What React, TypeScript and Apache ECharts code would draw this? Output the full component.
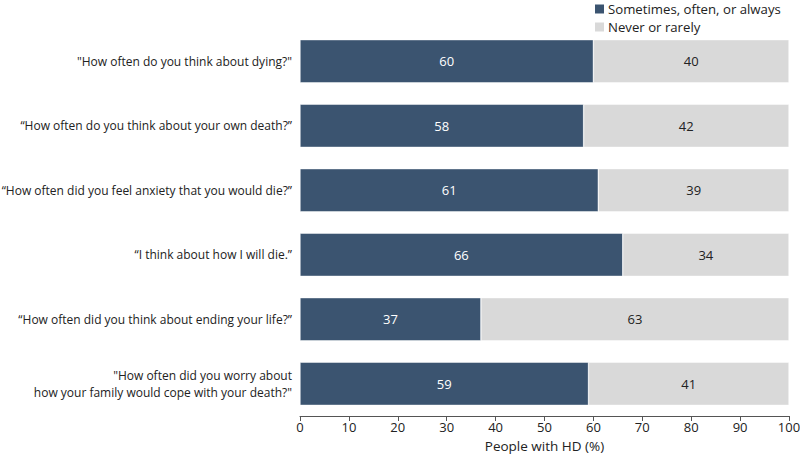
import React, { useEffect, useRef } from "react";
import * as echarts from "echarts";

const categories = [
  '"How often do you think about dying?"',
  "“How often do you think about your own death?”",
  "“How often did you feel anxiety that you would die?”",
  "“I think about how I will die.”",
  "“How often did you think about ending your life?”",
  '"How often did you worry about\nhow your family would cope with your death?"',
];
const sometimes = [60, 58, 61, 66, 37, 59];
const never = [40, 42, 39, 34, 63, 41];
const seriesNames = ["Sometimes, often, or always", "Never or rarely"];
const xTicks = [0, 10, 20, 30, 40, 50, 60, 70, 80, 90, 100];

export default function App() {
  const ref = useRef<HTMLDivElement>(null);
  useEffect(() => {
    if (!ref.current) return;
    const chart = echarts.init(ref.current, null, { renderer: "svg" });
    const font = "Open Sans";
    chart.setOption({
      animation: false,
      textStyle: { fontFamily: font },
      legend: {
        orient: "vertical",
        left: 593,
        top: 2,
        padding: 0,
        itemWidth: 11,
        itemHeight: 11,
        itemGap: 4,
        icon: "rect",
        textStyle: { fontFamily: font, fontSize: 13.2, color: "#222", padding: [0, 0, 0, -2], lineHeight: 14 },
        data: seriesNames,
      },
      grid: { left: 300, right: 11, top: 29, bottom: 40, containLabel: false, outerBoundsMode: "none" },
      xAxis: {
        type: "value",
        min: 0,
        max: 100,
        interval: 10,
        name: "People with HD (%)",
        nameLocation: "middle",
        nameGap: 23,
        nameTextStyle: { fontFamily: font, fontSize: 13.5, color: "#222" },
        axisLine: { show: true, lineStyle: { color: "#555" } },
        axisTick: { show: true, length: 5, lineStyle: { color: "#555" } },
        axisLabel: {
          fontFamily: font,
          fontSize: 13,
          color: "#222",
          margin: 4,
          formatter: (v: number) => (xTicks.includes(v) ? String(v) : ""),
        },
        splitLine: { show: false },
      },
      yAxis: {
        type: "category",
        inverse: true,
        data: categories,
        axisLine: { show: false },
        axisTick: { show: false },
        axisLabel: {
          fontFamily: font,
          fontSize: 12,
          color: "#222",
          margin: 8,
          lineHeight: 17,
        },
      },
      series: [
        {
          name: seriesNames[0],
          type: "bar",
          stack: "a",
          data: sometimes,
          barCategoryGap: "33%",
          itemStyle: { color: "#3b5470", borderColor: "#ffffff", borderWidth: 0.5 },
          label: {
            show: true,
            position: "inside",
            color: "#ffffff",
            fontFamily: font,
            fontSize: 13,
          },
        },
        {
          name: seriesNames[1],
          type: "bar",
          stack: "a",
          data: never,
          barCategoryGap: "33%",
          itemStyle: { color: "#d9d9d9", borderColor: "#ffffff", borderWidth: 0.5 },
          label: {
            show: true,
            position: "inside",
            color: "#222",
            fontFamily: font,
            fontSize: 13,
          },
        },
      ],
    });
    return () => chart.dispose();
  }, []);
  return (
    <div
      ref={ref}
      style={{ position: "absolute", left: 0, top: 0, width: 800, height: 456, background: "#fff" }}
    />
  );
}
